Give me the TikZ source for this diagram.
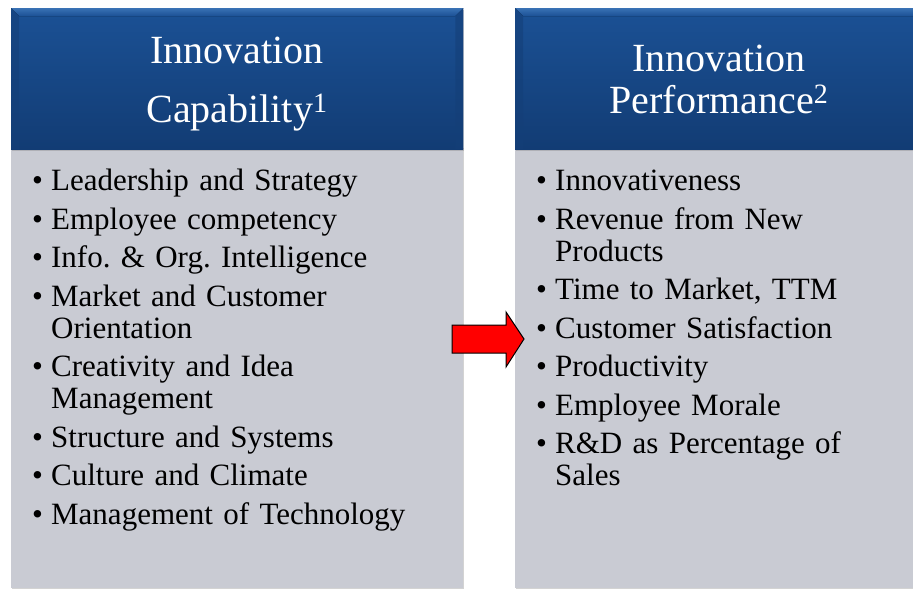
\documentclass[tikz,border=0pt]{standalone}
\usepackage{fontspec}
\setmainfont{Liberation Serif}
\usetikzlibrary{shadows,calc}
\definecolor{hdtop}{HTML}{1B5195}
\definecolor{hdbot}{HTML}{123C74}
\definecolor{hdlight}{HTML}{3A72B5}
\definecolor{hdedge}{HTML}{143F78}
\definecolor{bodygray}{HTML}{C9CBD3}
\tikzset{
  header/.style={rectangle, inner sep=0pt, top color=hdtop, bottom color=hdbot,
    minimum height=141pt, anchor=north west,
    drop shadow={shadow xshift=1pt, shadow yshift=-1.5pt, opacity=0.35}},
  bevel/.style={top color=hdlight, bottom color=hdtop},
  sidebevel/.style={fill=hdedge, opacity=0.6},
  headtext/.style={anchor=base, inner sep=0pt, text=white, font=\fontsize{40}{48}\selectfont},
  panel/.style={rectangle, inner sep=0pt, fill=bodygray, anchor=north west,
    drop shadow={shadow xshift=1pt, shadow yshift=-1.5pt, opacity=0.35}},
  list/.style={anchor=north west, inner sep=0pt, text width=#1, align=left,
    font=\fontsize{31}{32}\selectfont},
  bigarrow/.style={fill=red, draw=black, line width=1pt, line join=miter}
}
\newcommand{\bitem}[1]{\par\hangindent=19pt\hangafter=1\noindent\makebox[19pt][l]{\textbullet}#1}
\begin{document}
\begin{tikzpicture}[x=1pt,y=-1pt]
  \useasboundingbox (0,0) rectangle (913,589);
  \begin{scope}
    \clip (0,0) rectangle (913,589);
    % left column
    \node[panel, minimum width=452pt, minimum height=442pt] (lbody) at (11,146) {};
    \node[header, minimum width=452pt] (lhead) at (11,8) {};
    \fill[bevel] (lhead.north west) -- (lhead.north east) -- ++(-8,8) -- ($(lhead.north west)+(8,8)$) -- cycle;
    \fill[sidebevel] (lhead.north west) -- ++(8,8) -- ($(lhead.south west)+(8,0)$) -- (lhead.south west) -- cycle;
    \fill[sidebevel] (lhead.north east) -- ++(-8,8) -- ($(lhead.south east)+(-8,0)$) -- (lhead.south east) -- cycle;
    \node[headtext] (lh1) at (237,63) {Innovation};
    \node[headtext] (lh2) at (237,122) {Capability\textsuperscript{1}};
    \node[list=430pt] (llist) at (32,152) {\frenchspacing\setlength{\parskip}{6.5pt}\hyphenpenalty=10000%
      \bitem{Leadership and Strategy}
      \bitem{Employee competency}
      \bitem{Info. \& Org. Intelligence}
      \bitem{Market and Customer\newline Orientation}
      \bitem{Creativity and Idea\newline Management}
      \bitem{Structure and Systems}
      \bitem{Culture and Climate}
      \bitem{Management of Technology}\par};
    % right column
    \node[panel, minimum width=420pt, minimum height=442pt] (rbody) at (515,146) {};
    \node[header, minimum width=420pt] (rhead) at (515,8) {};
    \fill[bevel] (rhead.north west) -- (rhead.north east) -- ++(-8,8) -- ($(rhead.north west)+(8,8)$) -- cycle;
    \fill[sidebevel] (rhead.north west) -- ++(8,8) -- ($(rhead.south west)+(8,0)$) -- (rhead.south west) -- cycle;
    \node[headtext] (rh1) at (719,71) {Innovation};
    \node[headtext] (rh2) at (719,113) {Performance\textsuperscript{2}};
    \node[list=380pt] (rlist) at (536,152) {\frenchspacing\setlength{\parskip}{6.5pt}\hyphenpenalty=10000%
      \bitem{Innovativeness}
      \bitem{Revenue from New\newline Products}
      \bitem{Time to Market, TTM}
      \bitem{Customer Satisfaction}
      \bitem{Productivity}
      \bitem{Employee Morale}
      \bitem{R\&D as Percentage of\newline Sales}\par};
  \end{scope}
  % arrow from capability to performance
  \coordinate (atail) at (452,339);
  \coordinate (atip) at (524,339);
  \draw[bigarrow] ($(atail)+(0,-14)$) -- (506,325) -- (506,312) -- (atip)
     -- (506,367) -- (506,353) -- ($(atail)+(0,14)$) -- cycle;
\end{tikzpicture}
\end{document}
